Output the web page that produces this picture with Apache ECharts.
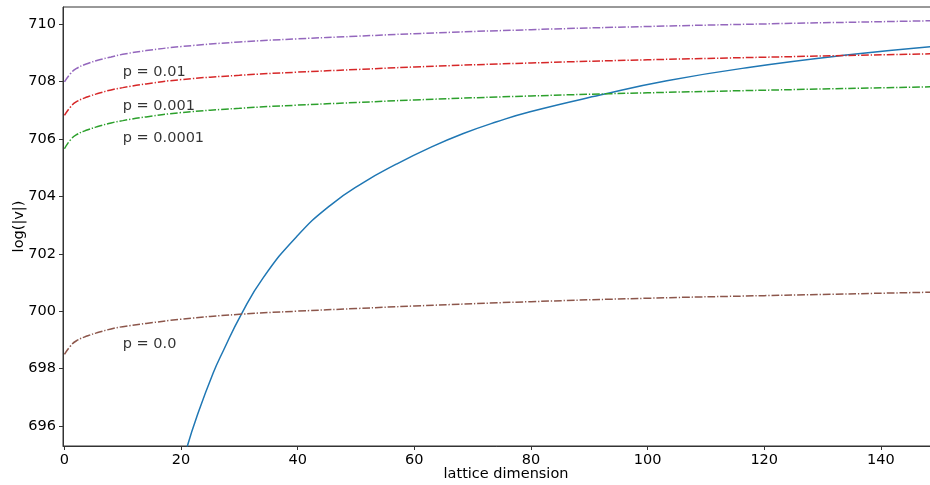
<!DOCTYPE html>
<html>
<head>
<meta charset="utf-8">
<script src="https://cdn.jsdelivr.net/npm/echarts@6/dist/echarts.min.js"></script>
<style>
  html, body { margin: 0; padding: 0; background: #fff; }
  #chart { width: 930px; height: 485px; }
</style>
</head>
<body>
<div id="chart"></div>
<script>
// tick positions
var xTicks = [0, 20, 40, 60, 80, 100, 120, 140];
var yTicks = [696, 698, 700, 702, 704, 706, 708, 710];

// solid curve
var blueX = [21.05, 22.68, 25.52, 27.24, 30.3, 34.1, 39.83, 45.54, 51.25, 56.98, 62.69, 68.4, 74.13, 79.85, 91.85, 103.3, 117.6, 135.3, 148.6];
var blueY = [695.28, 696.31, 697.85, 698.62, 699.88, 701.17, 702.6, 703.68, 704.48, 705.13, 705.7, 706.19, 706.6, 706.95, 707.53, 708.03, 708.5, 708.95, 709.22];

// dash-dot curves share these x positions
var pX = [0, 1, 2, 4, 6, 8, 10, 14, 20, 30, 40, 50, 60, 80, 100, 120, 148.6];
var p001 = [707.99, 708.27, 708.45, 708.63, 708.76, 708.86, 708.95, 709.08, 709.22, 709.38, 709.49, 709.58, 709.67, 709.81, 709.92, 710.01, 710.12];
var p0001 = [706.82, 707.11, 707.29, 707.47, 707.6, 707.71, 707.79, 707.92, 708.07, 708.22, 708.33, 708.42, 708.51, 708.65, 708.76, 708.85, 708.97];
var p00001 = [705.66, 705.96, 706.14, 706.32, 706.45, 706.56, 706.64, 706.77, 706.92, 707.07, 707.18, 707.27, 707.36, 707.5, 707.61, 707.7, 707.82];
var p0 = [698.49, 698.78, 698.96, 699.14, 699.27, 699.38, 699.46, 699.57, 699.72, 699.89, 700.0, 700.09, 700.18, 700.33, 700.45, 700.54, 700.66];

// text annotations
var noteText = ['p = 0.01', 'p = 0.001', 'p = 0.0001', 'p = 0.0'];
var noteX = [10, 10, 10, 10];
var noteY = [708.17, 707.01, 705.87, 698.7];

var FONT = 'DejaVu Sans';
var FS = 14.5;

function pairs(xs, ys) {
  return xs.map(function (x, i) { return [x, ys[i]]; });
}

function dashLine(name, ys, color) {
  return {
    name: name,
    type: 'line',
    data: pairs(pX, ys),
    smooth: 0.5,
    showSymbol: false,
    lineStyle: { color: color, width: 1.5, type: [7.7, 1.9, 1.3, 1.9] }
  };
}

var chart = echarts.init(document.getElementById('chart'), null, { renderer: 'canvas' });

var option = {
  animation: false,
  backgroundColor: '#fff',
  grid: {
    show: true,
    left: 63,
    right: -1,
    top: 7,
    bottom: 39,
    outerBoundsMode: 'none',
    containLabel: false,
    borderColor: '#333',
    borderWidth: 1
  },
  xAxis: {
    type: 'value',
    min: -0.25,
    max: 148.6,
    name: 'lattice dimension',
    nameLocation: 'middle',
    nameGap: 21,
    nameMoveOverlap: false,
    nameTextStyle: { fontFamily: FONT, fontSize: FS, color: '#000', padding: [0, 0, 0, 18] },
    axisLine: { show: true, onZero: false, lineStyle: { color: '#333', width: 1 } },
    axisTick: { show: true, customValues: xTicks, length: 4, lineStyle: { color: '#333' } },
    axisLabel: { customValues: xTicks, margin: 7, fontFamily: FONT, fontSize: FS, color: '#000' },
    splitLine: { show: false }
  },
  yAxis: {
    type: 'value',
    min: 695.3,
    max: 710.6,
    name: 'log(|v|)',
    nameLocation: 'middle',
    nameGap: 36,
    nameMoveOverlap: false,
    nameTextStyle: { fontFamily: FONT, fontSize: FS, color: '#000' },
    axisLine: { show: true, onZero: false, lineStyle: { color: '#333', width: 1 } },
    axisTick: { show: true, customValues: yTicks, length: 4, lineStyle: { color: '#333' } },
    axisLabel: { customValues: yTicks, margin: 7, fontFamily: FONT, fontSize: FS, color: '#000' },
    splitLine: { show: false }
  },
  series: [
    {
      name: 'estimate',
      type: 'line',
      data: pairs(blueX, blueY),
      smooth: 0.5,
      showSymbol: false,
      lineStyle: { color: '#1f77b4', width: 1.5 }
    },
    dashLine('p = 0.01', p001, '#9467bd'),
    dashLine('p = 0.001', p0001, '#d62728'),
    dashLine('p = 0.0001', p00001, '#2ca02c'),
    dashLine('p = 0.0', p0, '#8c564b'),
    {
      name: 'notes',
      type: 'scatter',
      silent: true,
      symbolSize: 0,
      data: noteText.map(function (t, i) { return [noteX[i], noteY[i], t]; }),
      label: {
        show: true,
        position: [0, 0],
        align: 'left',
        verticalAlign: 'bottom',
        offset: [0, 3.4],
        fontFamily: FONT,
        fontSize: FS,
        color: '#000',
        formatter: function (p) { return p.data[2]; }
      }
    }
  ]
};

chart.setOption(option);
</script>
</body>
</html>
